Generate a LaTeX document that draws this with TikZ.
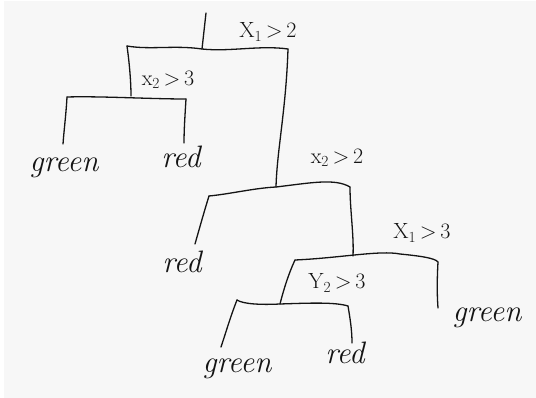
\documentclass[tikz,border=0pt]{standalone}
\usepackage{fontspec}
\setmainfont{Latin Modern Roman}
\begin{document}
\begin{tikzpicture}[x=1pt,y=-1pt,line cap=round,line join=round,
  edge/.style={draw=black!92,line width=1.3pt},
  cond/.style={font=\fontsize{22}{24}\selectfont,inner sep=0pt,text=black!92},
  leaf/.style={font=\fontsize{31}{33}\selectfont\itshape,inner sep=0pt,anchor=base,text=black!92}]
\useasboundingbox (0,0) rectangle (536,398);
\fill[white] (0,0) rectangle (536,398);
\fill[black!3] (4,1) rectangle (536,398);

% labels
\node[cond] (c1) at (268,32) {X\textsubscript{1}\,>\,2};
\node[cond] (c2) at (168,80) {x\textsubscript{2}\,>\,3};
\node[cond] (c3) at (337,158) {x\textsubscript{2}\,>\,2};
\node[cond] (c4) at (422,233) {X\textsubscript{1}\,>\,3};
\node[cond] (c5) at (337,283) {Y\textsubscript{2}\,>\,3};

% leaves
\node[leaf] (g1) at (64,172) {green};
\node[leaf] (r1) at (181,168) {red};
\node[leaf] (r2) at (182,273) {red};
\node[leaf] (g3) at (487,322) {green};
\node[leaf] (g2) at (237,373) {green};
\node[leaf] (r3) at (345,363) {red};

% junction coordinates
\coordinate (top) at (206,13);
\coordinate (n1) at (202,49);
\coordinate (b1L) at (127,46);
\coordinate (b1R) at (288,49);
\coordinate (n2) at (131,96);
\coordinate (b2L) at (67,97);
\coordinate (b2R) at (186,99);
\coordinate (e1) at (63,144);
\coordinate (e2) at (184,143);
\coordinate (n3) at (276,187);
\coordinate (b3L) at (209,196);
\coordinate (b3R) at (350,187);
\coordinate (e3) at (195,244);
\coordinate (n4) at (353,256);
\coordinate (b4L) at (295,260);
\coordinate (b4R) at (438,262);
\coordinate (e4) at (438,308);
\coordinate (n5) at (280,304);
\coordinate (b5L) at (237,300);
\coordinate (b5R) at (348,306);
\coordinate (e5) at (221,347);
\coordinate (e6) at (352,343);

% split 1
\draw[edge] (top) -- (n1);
\draw[edge] (b1L) .. controls (150,50) and (175,45) .. (n1) .. controls (230,52) and (260,45) .. (b1R);
\draw[edge] (b1L) .. controls (129,60) and (131,80) .. (n2);
% split 2
\draw[edge] (b2L) .. controls (100,96) and (150,99) .. (b2R);
\draw[edge] (b2L) .. controls (66,115) and (64,130) .. (e1);
\draw[edge] (b2R) .. controls (185,115) and (184,130) .. (e2);
% split 3
\draw[edge] (b1R) .. controls (286,110) and (277,150) .. (n3);
\draw[edge] (b3L) .. controls (230,194) and (255,188) .. (n3) .. controls (310,183) and (335,178) .. (b3R);
\draw[edge] (b3L) .. controls (204,212) and (199,230) .. (e3);
\draw[edge] (b3R) .. controls (350,210) and (354,235) .. (n4);
% split 4
\draw[edge] (b4L) .. controls (340,258) and (380,250) .. (400,254) .. controls (420,256) and (435,258) .. (b4R);
\draw[edge] (b4L) .. controls (288,275) and (283,292) .. (n5);
\draw[edge] (b4R) .. controls (437,280) and (437,295) .. (e4);
% split 5
\draw[edge] (b5L) .. controls (243,304) and (260,305) .. (280,304) .. controls (310,303) and (335,302) .. (b5R);
\draw[edge] (b5L) .. controls (231,315) and (226,332) .. (e5);
\draw[edge] (b5R) .. controls (350,318) and (352,330) .. (e6);
\end{tikzpicture}
\end{document}
